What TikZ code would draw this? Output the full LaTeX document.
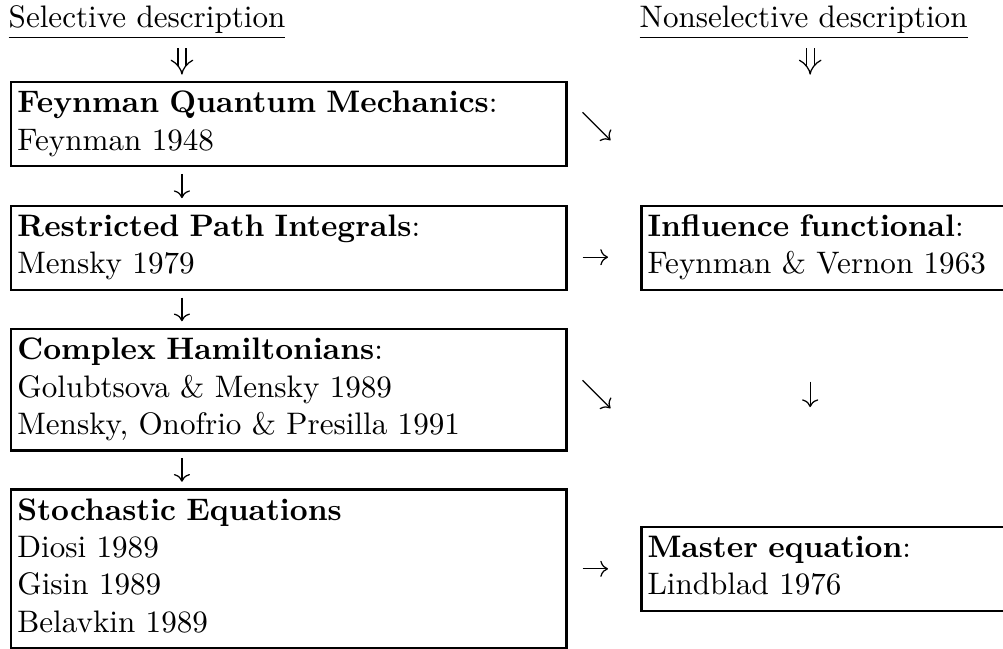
\documentclass[tikz,border=0pt]{standalone}
\usepackage{amsmath, amssymb}
\usetikzlibrary{arrows.meta,calc,positioning}
\tikzset{>={Computer Modern Rightarrow}}
\tikzset{
  refbox/.style={draw, line width=0.8pt, anchor=north west, align=left,
    text width=174.5pt, inner xsep=2pt, inner ysep=1.5pt,
    execute at begin node=\strut, execute at end node=\strut},
  hdr/.style={anchor=base west, inner sep=0pt},
  dn/.style={->, line width=0.4pt},
  ddn/.style={double, line width=0.4pt, double distance=2.2pt, -{Implies[scale=1.3]}},
}
\begin{document}
\begin{tikzpicture}
  \useasboundingbox (0,0) rectangle (322.5pt,-208.36pt);
  % headers
  \node[hdr] (sel) at (2.6pt,-8.8pt) {\underline{Selective description}};
  \node[hdr] (nsel) at (205.5pt,-8.8pt) {\underline{Nonselective description}};
  % selective column
  \node[refbox] (fqm) at (3.2pt,-26pt) {\textbf{Feynman Quantum Mechanics}:\\Feynman 1948};
  \node[refbox] (rpi) at (3.2pt,-65.8pt) {\textbf{Restricted Path Integrals}:\\Mensky 1979};
  \node[refbox] (cha) at (3.2pt,-105.4pt) {\textbf{Complex Hamiltonians}:\\Golubtsova \& Mensky 1989\\Mensky, Onofrio \& Presilla 1991};
  \node[refbox] (steq) at (3.2pt,-157pt) {\textbf{Stochastic Equations}\\Diosi 1989\\Gisin 1989\\Belavkin 1989};
  % nonselective column
  \node[refbox] (inf) at (205.8pt,-65.8pt) {\textbf{Influence functional}:\\Feynman \& Vernon 1963};
  \node[refbox] (meq) at (205.8pt,-169pt) {\textbf{Master equation}:\\Lindblad 1976};
  \coordinate (lx) at (58.5pt,0);
  \coordinate (rx) at (260.5pt,0);
  \draw[ddn, shorten <=2.6pt, shorten >=2pt] (sel.south -| lx) -- (fqm.north -| lx);
  \draw[ddn, shorten <=2.6pt, shorten >=2pt] (nsel.south -| rx) -- (rx |- fqm.north);
  \foreach \a/\b in {fqm/rpi, rpi/cha, cha/steq}
    \draw[dn, shorten <=2.1pt, shorten >=2.1pt] (\a.south -| lx) -- (\b.north -| lx);
  \draw[dn, shorten <=29.1pt, shorten >=38.1pt] (inf.south -| rx) -- (meq.north -| rx);
  \draw[dn, shorten <=4.8pt, shorten >=10.3pt] ([yshift=-3pt]rpi.east) -- ([yshift=-3pt]inf.west);
  \draw[dn, shorten <=4.8pt, shorten >=10.3pt] (steq.east) -- (meq.west);
  % diagonal arrows
  \foreach \b/\n/\dy in {fqm/1/-0.7, cha/2/-1.5} {
    \coordinate (se\n a) at ($(\b.east)+(4.8pt,4.5pt+\dy pt)$);
    \coordinate (se\n b) at ($(\b.east)+(13.8pt,-4.5pt+\dy pt)$);
    \draw[dn] (se\n a) -- (se\n b);
  }
\end{tikzpicture}
\end{document}
